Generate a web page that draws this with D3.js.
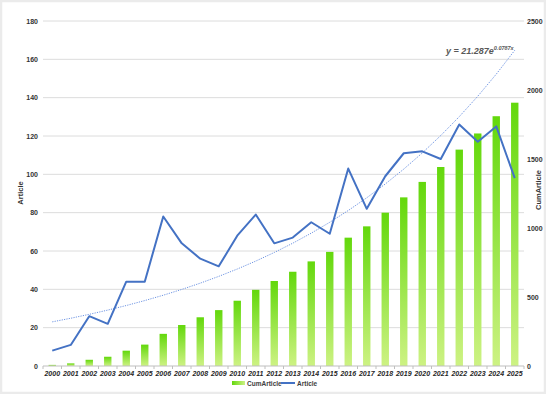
<!DOCTYPE html>
<html>
<head>
<meta charset="utf-8">
<script src="https://cdn.jsdelivr.net/npm/d3@7.9.0/dist/d3.min.js"></script>
<style>
  body { margin: 0; background: #fff; }
  svg { display: block; font-family: "Liberation Sans", Arial, sans-serif; }
</style>
</head>
<body>
<svg id="chart" width="546" height="394"></svg>
<script>
const years = d3.range(2000, 2026).map(String);
const article = [8, 11, 26, 22, 44, 44, 78, 64, 56, 52, 68, 79, 64, 67, 75, 69, 103, 82, 99, 111, 112, 108, 126, 117, 125, 98];
const cumArticle = [8, 19, 45, 67, 111, 155, 233, 297, 353, 405, 473, 552, 616, 683, 758, 827, 930, 1012, 1111, 1222, 1334, 1442, 1568, 1685, 1810, 1908];
const leftTicks = [0, 20, 40, 60, 80, 100, 120, 140, 160, 180];
const rightTicks = [0, 500, 1000, 1500, 2000, 2500];
// excel exponential trendline: y = a * e^(b x), x = 1..n
const trendA = 21.287;
const trendB = 0.0787;

const svg = d3.select('#chart');
const plotLeft = 43, plotRight = 524, plotTop = 21, plotBottom = 366;

// frame
svg.append('rect').attr('x', 1).attr('y', 1).attr('width', 544).attr('height', 392)
  .attr('fill', '#fff').attr('stroke', '#ebebeb').attr('stroke-width', 2.5);

const defs = svg.append('defs');
const grad = defs.append('linearGradient').attr('id', 'barGrad')
  .attr('x1', 0).attr('y1', 0).attr('x2', 0).attr('y2', 1);
grad.append('stop').attr('offset', '0%').attr('stop-color', '#63d80c');
grad.append('stop').attr('offset', '100%').attr('stop-color', '#cdf283');
const gradH = defs.append('linearGradient').attr('id', 'legGrad')
  .attr('x1', 0).attr('y1', 0).attr('x2', 1).attr('y2', 0);
gradH.append('stop').attr('offset', '0%').attr('stop-color', '#63d80c');
gradH.append('stop').attr('offset', '100%').attr('stop-color', '#cdf283');

const x = d3.scaleBand().domain(years).range([plotLeft, plotRight]).paddingInner(0.6).paddingOuter(0.3);
const cx = (d) => x(d) + x.bandwidth() / 2;
const yL = d3.scaleLinear().domain([0, 180]).range([plotBottom, plotTop]);
const yR = d3.scaleLinear().domain([0, 2500]).range([plotBottom, plotTop]);

// gridlines
svg.append('g').selectAll('line').data(leftTicks.slice(1)).join('line')
  .attr('x1', plotLeft).attr('x2', plotRight)
  .attr('y1', (d) => yL(d)).attr('y2', (d) => yL(d))
  .attr('stroke', '#dcdcdc').attr('stroke-width', 1);

// bars
svg.append('g').selectAll('rect').data(years).join('rect')
  .attr('x', (d) => x(d))
  .attr('width', x.bandwidth())
  .attr('y', (d, i) => yR(cumArticle[i]))
  .attr('height', (d, i) => plotBottom - yR(cumArticle[i]))
  .attr('fill', 'url(#barGrad)');

// x axis line + ticks
svg.append('line').attr('x1', plotLeft).attr('x2', plotRight).attr('y1', plotBottom).attr('y2', plotBottom)
  .attr('stroke', '#bfbfbf');
svg.append('g').selectAll('line').data(d3.range(years.length + 1)).join('line')
  .attr('x1', (i) => plotLeft + i * (plotRight - plotLeft) / years.length)
  .attr('x2', (i) => plotLeft + i * (plotRight - plotLeft) / years.length)
  .attr('y1', plotBottom).attr('y2', plotBottom + 3)
  .attr('stroke', '#bfbfbf');

svg.append('g').selectAll('text').data(years).join('text')
  .attr('x', (d) => cx(d)).attr('y', 376)
  .attr('text-anchor', 'middle')
  .attr('font-size', 7).attr('font-weight', 'bold').attr('font-style', 'italic')
  .attr('fill', '#262626')
  .text((d) => d);

// left ticks
svg.append('g').selectAll('text').data(leftTicks).join('text')
  .attr('x', 38).attr('y', (d) => yL(d) + 2.5)
  .attr('text-anchor', 'end')
  .attr('font-size', 7).attr('font-weight', 'bold').attr('fill', '#333')
  .text((d) => d);

// right ticks
svg.append('g').selectAll('text').data(rightTicks).join('text')
  .attr('x', 527).attr('y', (d) => yR(d) + 2.5)
  .attr('text-anchor', 'start')
  .attr('font-size', 7).attr('font-weight', 'bold').attr('fill', '#333')
  .text((d) => d);

// axis titles
svg.append('text').attr('transform', 'translate(23,193) rotate(-90)')
  .attr('text-anchor', 'middle').attr('font-size', 7.5).attr('font-weight', 'bold').attr('fill', '#333')
  .text('Article');
svg.append('text').attr('transform', 'translate(541,190) rotate(-90)')
  .attr('text-anchor', 'middle').attr('font-size', 7.5).attr('font-weight', 'bold').attr('fill', '#333')
  .text('CumArticle');

// trendline
const trend = years.map((d, i) => [cx(d), yL(trendA * Math.exp(trendB * (i + 1)))]);
svg.append('path').attr('d', d3.line()(trend))
  .attr('fill', 'none').attr('stroke', '#6f95e3').attr('stroke-width', 1)
  .attr('stroke-dasharray', '1.2,1.2');

// article line
svg.append('path')
  .attr('d', d3.line().x((d) => cx(d)).y((d, i) => yL(article[i]))(years))
  .attr('fill', 'none').attr('stroke', '#4472c4').attr('stroke-width', 2)
  .attr('stroke-linejoin', 'round');

// equation
const eq = svg.append('text').attr('x', 446).attr('y', 54)
  .attr('font-size', 9).attr('font-weight', 'bold').attr('font-style', 'italic').attr('fill', '#595959');
eq.append('tspan').text('y = ' + trendA + 'e');
eq.append('tspan').attr('dy', -4).attr('font-size', 5.5).text(trendB + 'x');

// legend
svg.append('rect').attr('x', 232).attr('y', 381).attr('width', 13).attr('height', 4)
  .attr('fill', 'url(#legGrad)');
svg.append('text').attr('x', 247).attr('y', 385.5).attr('font-size', 6.5).attr('font-weight', 'bold').attr('fill', '#404040')
  .text('CumArticle');
svg.append('line').attr('x1', 281).attr('x2', 295).attr('y1', 383).attr('y2', 383)
  .attr('stroke', '#4472c4').attr('stroke-width', 2);
svg.append('text').attr('x', 297).attr('y', 385.5).attr('font-size', 6.5).attr('font-weight', 'bold').attr('fill', '#404040')
  .text('Article');
</script>
</body>
</html>
